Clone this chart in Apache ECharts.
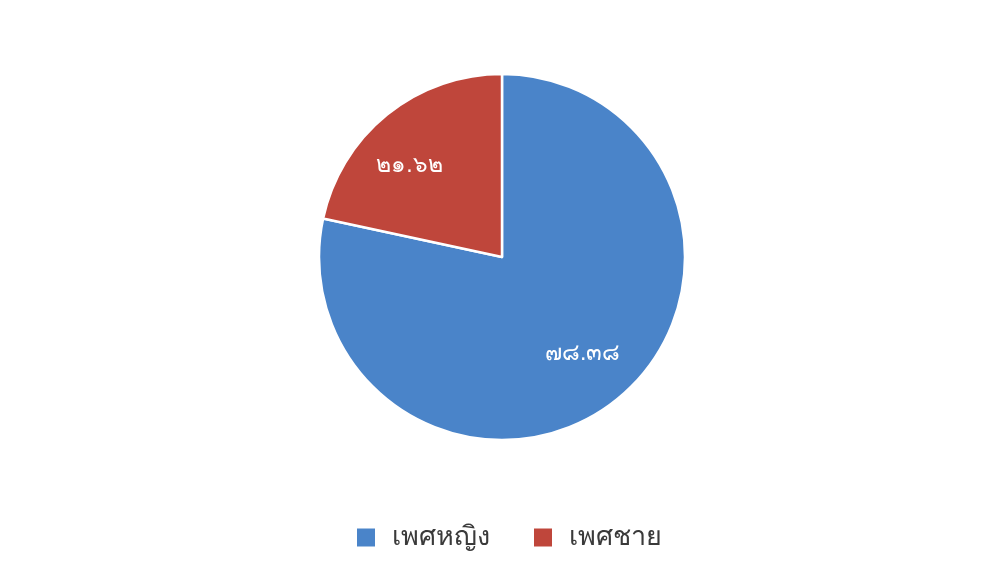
<!DOCTYPE html>
<html><head><meta charset="utf-8">
<script src="https://cdn.jsdelivr.net/npm/echarts@6/dist/echarts.min.js"></script>
<style>html,body{margin:0;padding:0;background:#fff}#c{width:986px;height:583px}</style>
</head><body><div id="c"></div>
<script>
const categories = ['เพศหญิง', 'เพศชาย'];
const values = [78.38, 21.62];
const colors = ['#4a84c9', '#bf463b'];

const thaiDigits = ['๐','๑','๒','๓','๔','๕','๖','๗','๘','๙'];
const toThai = s => String(s).replace(/[0-9]/g, d => thaiDigits[+d]);

const data = categories.map((n, i) => ({ name: n, value: values[i], itemStyle: { color: colors[i] } }));
const labelNudge = [[-2, -6], [-10, 11]];

const chart = echarts.init(document.getElementById('c'), null, { renderer: 'canvas' });
chart.setOption({
  backgroundColor: '#fff',
  animation: false,
  legend: {
    bottom: 27,
    left: 350,
    itemWidth: 20,
    itemHeight: 20,
    itemGap: 42,
    icon: 'rect',
    textStyle: { fontSize: 27, color: '#3a3a3a', fontFamily: 'Noto Sans, sans-serif', padding: [0, 0, 0, 11] },
    data: categories
  },
  series: [
    {
      type: 'pie',
      center: [502, 257],
      radius: [0, 183],
      startAngle: 90,
      clockwise: true,
      itemStyle: { borderColor: '#fff', borderWidth: 2.5 },
      label: { show: false },
      labelLine: { show: false },
      data: data
    },
    {
      type: 'pie',
      center: [502, 257],
      radius: [74, 183],
      startAngle: 90,
      clockwise: true,
      silent: true,
      legendHoverLink: false,
      itemStyle: { color: 'transparent', borderWidth: 0 },
      label: {
        show: true,
        position: 'inside',
        color: '#fff',
        fontSize: 23,
        formatter: p => toThai(p.value.toFixed(2))
      },
      labelLayout: p => ({ dx: labelNudge[p.dataIndex][0], dy: labelNudge[p.dataIndex][1] }),
      labelLine: { show: false },
      data: categories.map((n, i) => ({ name: n + ' ', value: values[i] }))
    }
  ]
});
</script></body></html>
